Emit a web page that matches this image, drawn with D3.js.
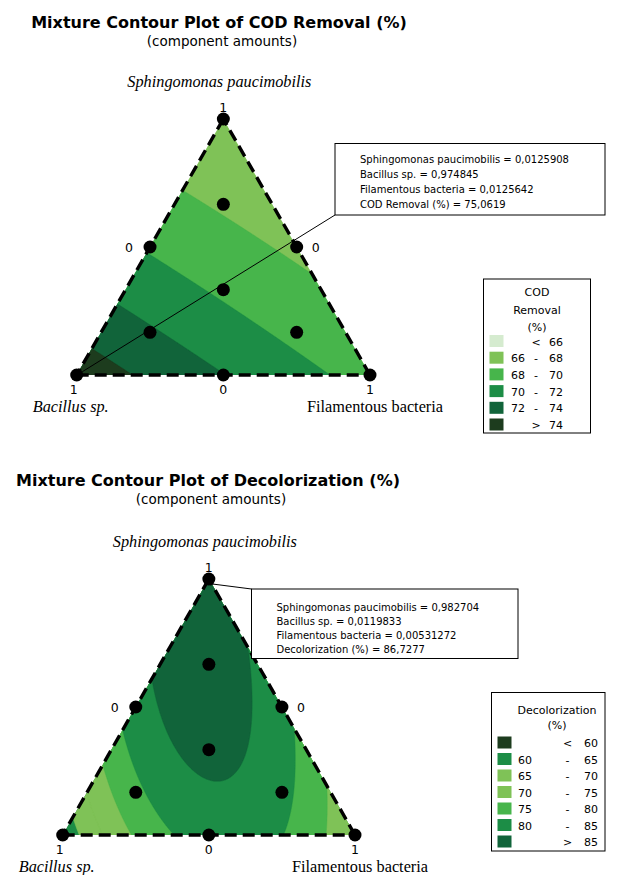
<!DOCTYPE html>
<html>
<head>
<meta charset="utf-8">
<script src="https://cdn.jsdelivr.net/npm/d3@7"></script>
<style>
  html, body { margin: 0; padding: 0; background: #fff; }
  svg { display: block; }
  .title { font-family: "DejaVu Sans", sans-serif; font-weight: bold; font-size: 16px; }
  .sub { font-family: "DejaVu Sans", sans-serif; font-size: 13.5px; }
  .vname { font-family: "Liberation Serif", serif; font-size: 16.3px; }
  .tick { font-family: "DejaVu Sans", sans-serif; font-size: 12.5px; }
  .note { font-family: "DejaVu Sans", sans-serif; font-size: 10px; }
  .leg { font-family: "DejaVu Sans", sans-serif; font-size: 11px; }
</style>
</head>
<body>
<svg id="chart" width="623" height="875"></svg>
<script>
// Mixture components (vertex order: top, bottom-left, bottom-right)
const components = ["Sphingomonas paucimobilis", "Bacillus sp.", "Filamentous bacteria"];

// Simplex-centroid design with axial check blends: [S, B, F]
const designBlends = [
  [1, 0, 0], [0, 1, 0], [0, 0, 1],
  [0.5, 0.5, 0], [0.5, 0, 0.5], [0, 0.5, 0.5],
  [1/3, 1/3, 1/3],
  [2/3, 1/6, 1/6], [1/6, 2/3, 1/6], [1/6, 1/6, 2/3]
];

// Fitted Scheffé cubic terms: [S, B, F, SB, SF, BF, SB(S-B), SF(S-F), BF(B-F), SBF]
const codCoef   = [66.3, 75.3, 69.3, -4, -0.5, -1, 0, 0, 0, 0];
const decolCoef = [86.7, 61, 70, 35, 13, 66, 0, 2.5, 0, 23];

// Contour bands
const codThresholds = [66, 68, 70, 72, 74];
const codColors = ["#d5ebcf", "#7fc257", "#47b54b", "#1c8d46", "#11643a", "#1d3c1e"];
const codLegendRows = [["", "<", "66"], ["66", "-", "68"], ["68", "-", "70"], ["70", "-", "72"], ["72", "-", "74"], ["", ">", "74"]];

const decolThresholds = [60, 65, 70, 75, 80, 85];
const decolColors = ["#1d3c1e", "#1c8d46", "#7fc257", "#7fc257", "#47b54b", "#1c8d46", "#11643a"];
const decolLegendRows = [["", "<", "60"], ["60", "-", "65"], ["65", "-", "70"], ["70", "-", "75"], ["75", "-", "80"], ["80", "-", "85"], ["", ">", "85"]];

// Blends picked out with a callout
const codAnnotBlend = [0.0125908, 0.974845, 0.0125642];
const codAnnotValue = 75.0619;
const decolAnnotBlend = [0.982704, 0.0119833, 0.00531272];
const decolAnnotValue = 86.7277;

const svg = d3.select("#chart");

function model(c, S, B, F) {
  return c[0]*S + c[1]*B + c[2]*F
       + c[3]*S*B + c[4]*S*F + c[5]*B*F
       + c[6]*S*B*(S-B) + c[7]*S*F*(S-F) + c[8]*B*F*(B-F)
       + c[9]*S*B*F;
}

const fmt = v => String(v).replace(".", ",");

function panel(cfg) {
  const g = svg.append("g");
  const xs = d3.scaleLinear().domain([0, 1]).range([cfg.xL, cfg.xR]);
  const ys = d3.scaleLinear().domain([0, 1]).range([cfg.yBase, cfg.yApex]);
  const pos = ([s, b, f]) => [xs(f + s / 2), ys(s)];

  const clipId = "clip-" + cfg.id;
  const tri = [pos([1,0,0]), pos([0,1,0]), pos([0,0,1])];
  g.append("clipPath").attr("id", clipId)
    .append("polygon").attr("points", tri.map(p => p.join(",")).join(" "));

  // grid over the bounding box in (u = F + S/2, s = S)
  const nx = 320, ny = 280;
  const values = new Float64Array(nx * ny);
  for (let j = 0; j < ny; j++) {
    const s = (j + 0.5) / ny;
    for (let i = 0; i < nx; i++) {
      const u = (i + 0.5) / nx;
      const F = u - s / 2, B = 1 - s - F;
      values[j * nx + i] = model(cfg.coef, s, B, F);
    }
  }
  const contours = d3.contours().size([nx, ny]).thresholds(cfg.thresholds)(values);
  const proj = d3.geoTransform({
    point(x, y) { this.stream.point(xs(x / nx), ys(y / ny)); }
  });
  const path = d3.geoPath(proj);

  const fillG = g.append("g").attr("clip-path", `url(#${clipId})`);
  fillG.append("polygon")
    .attr("points", tri.map(p => p.join(",")).join(" "))
    .attr("fill", cfg.colors[0]);
  fillG.selectAll("path.band").data(contours).join("path")
    .attr("class", "band")
    .attr("d", path)
    .attr("fill", (d, i) => cfg.colors[i + 1])
    .attr("stroke", (d, i) => cfg.colors[i + 1])
    .attr("stroke-width", 0.4);

  // dashed triangle edges
  const edges = [[tri[0], tri[1]], [tri[1], tri[2]], [tri[2], tri[0]]];
  g.selectAll("line.edge").data(edges).join("line")
    .attr("x1", d => d[0][0]).attr("y1", d => d[0][1])
    .attr("x2", d => d[1][0]).attr("y2", d => d[1][1])
    .attr("stroke", "#000").attr("stroke-width", 3.4)
    .attr("stroke-dasharray", "12,6");

  // callout leader
  const ap = pos(cfg.annotBlend);
  g.append("line")
    .attr("x1", ap[0]).attr("y1", ap[1])
    .attr("x2", cfg.box.x).attr("y2", cfg.box.leaderY)
    .attr("stroke", "#000").attr("stroke-width", 1);

  // design points
  g.selectAll("circle.pt").data(designBlends).join("circle")
    .attr("cx", d => pos(d)[0]).attr("cy", d => pos(d)[1])
    .attr("r", 6.5).attr("fill", "#000");

  // titles
  g.append("text").attr("class", "title").attr("x", cfg.titleX).attr("y", cfg.titleY)
    .attr("text-anchor", "middle").text(cfg.title);
  g.append("text").attr("class", "sub").attr("x", cfg.titleX + 3).attr("y", cfg.titleY + 18)
    .attr("text-anchor", "middle").text("(component amounts)");

  // component names
  const top = pos([1,0,0]), bl = pos([0,1,0]), br = pos([0,0,1]);
  g.append("text").attr("class", "vname").attr("font-style", "italic")
    .attr("x", top[0] - 4).attr("y", top[1] - 32).attr("text-anchor", "middle").text(components[0]);
  g.append("text").attr("class", "vname").attr("font-style", "italic")
    .attr("x", bl[0] - 6).attr("y", bl[1] + 37).attr("text-anchor", "middle").text(components[1]);
  g.append("text").attr("class", "vname")
    .attr("x", br[0] + 5).attr("y", br[1] + 37).attr("text-anchor", "middle").text(components[2]);

  // amount ticks
  const lm = pos([0.5, 0.5, 0]), rm = pos([0.5, 0, 0.5]), bm = pos([0, 0.5, 0.5]);
  const ticks = [
    [top[0], top[1] - 7, "1", "middle"],
    [bl[0] - 3, bl[1] + 19, "1", "middle"],
    [bm[0], bm[1] + 19, "0", "middle"],
    [br[0], br[1] + 19, "1", "middle"],
    [lm[0] - 17, lm[1] + 5, "0", "end"],
    [rm[0] + 15, rm[1] + 5, "0", "start"]
  ];
  g.selectAll("text.tick").data(ticks).join("text")
    .attr("class", "tick")
    .attr("x", d => d[0]).attr("y", d => d[1])
    .attr("text-anchor", d => d[3]).text(d => d[2]);

  // callout box
  const bx = cfg.box;
  g.append("rect").attr("x", bx.x).attr("y", bx.y).attr("width", bx.w).attr("height", bx.h)
    .attr("fill", "#fff").attr("stroke", "#000").attr("stroke-width", 1);
  const lines = [
    `${components[0]} = ${fmt(cfg.annotBlend[0])}`,
    `${components[1]} = ${fmt(cfg.annotBlend[1])}`,
    `${components[2]} = ${fmt(cfg.annotBlend[2])}`,
    `${cfg.response} = ${fmt(cfg.annotValue)}`
  ];
  g.selectAll("text.note").data(lines).join("text")
    .attr("class", "note")
    .attr("x", bx.x + bx.padX).attr("y", (d, i) => bx.y + bx.firstY + i * bx.lineH)
    .text(d => d);

  // legend
  const lg = cfg.legend;
  g.append("rect").attr("x", lg.x).attr("y", lg.y).attr("width", lg.w).attr("height", lg.h)
    .attr("fill", "#fff").attr("stroke", "#000").attr("stroke-width", 1);
  lg.title.forEach((t, i) => {
    g.append("text").attr("class", "leg").attr("x", lg.titleX).attr("y", lg.titleY + i * lg.titleH)
      .attr("text-anchor", "middle").text(t);
  });
  const rows = g.selectAll("g.row").data(cfg.legendRows).join("g")
    .attr("transform", (d, i) => `translate(0,${lg.rowY + i * lg.rowH})`);
  rows.append("rect").attr("x", lg.swX).attr("y", 0).attr("width", 14).attr("height", 12)
    .attr("fill", (d, i) => cfg.colors[i]);
  rows.append("text").attr("class", "leg").attr("x", lg.c1).attr("y", 10.5)
    .attr("text-anchor", "middle").text(d => d[0]);
  rows.append("text").attr("class", "leg").attr("x", lg.c2).attr("y", 10.5)
    .attr("text-anchor", "middle").text(d => d[1]);
  rows.append("text").attr("class", "leg").attr("x", lg.c3).attr("y", 10.5)
    .attr("text-anchor", "middle").text(d => d[2]);
}

panel({
  id: "cod", title: "Mixture Contour Plot of COD Removal (%)", response: "COD Removal (%)",
  titleX: 219, titleY: 28,
  xL: 76.7, xR: 370, yBase: 375, yApex: 119,
  coef: codCoef, thresholds: codThresholds, colors: codColors, legendRows: codLegendRows,
  annotBlend: codAnnotBlend, annotValue: codAnnotValue,
  box: { x: 335, y: 143.5, w: 270, h: 71.5, leaderY: 215, padX: 25, firstY: 19, lineH: 15.1 },
  legend: { x: 483.5, y: 279, w: 107, h: 154, title: ["COD", "Removal", "(%)"], titleX: 537, titleY: 296, titleH: 17.5,
            rowY: 335, rowH: 16.7, swX: 489.5, c1: 518, c2: 536, c3: 556 }
});

panel({
  id: "decol", title: "Mixture Contour Plot of Decolorization (%)", response: "Decolorization (%)",
  titleX: 208, titleY: 486,
  xL: 62.7, xR: 355, yBase: 835, yApex: 579,
  coef: decolCoef, thresholds: decolThresholds, colors: decolColors, legendRows: decolLegendRows,
  annotBlend: decolAnnotBlend, annotValue: decolAnnotValue,
  box: { x: 251.5, y: 589, w: 266.5, h: 69.5, leaderY: 589, padX: 25, firstY: 21.5, lineH: 14.3 },
  legend: { x: 491.5, y: 692.5, w: 113.5, h: 158.5, title: ["Decolorization", "(%)"], titleX: 557, titleY: 714, titleH: 14.5,
            rowY: 736.5, rowH: 16.5, swX: 497.5, c1: 525, c2: 567.5, c3: 591 }
});
</script>
</body>
</html>
